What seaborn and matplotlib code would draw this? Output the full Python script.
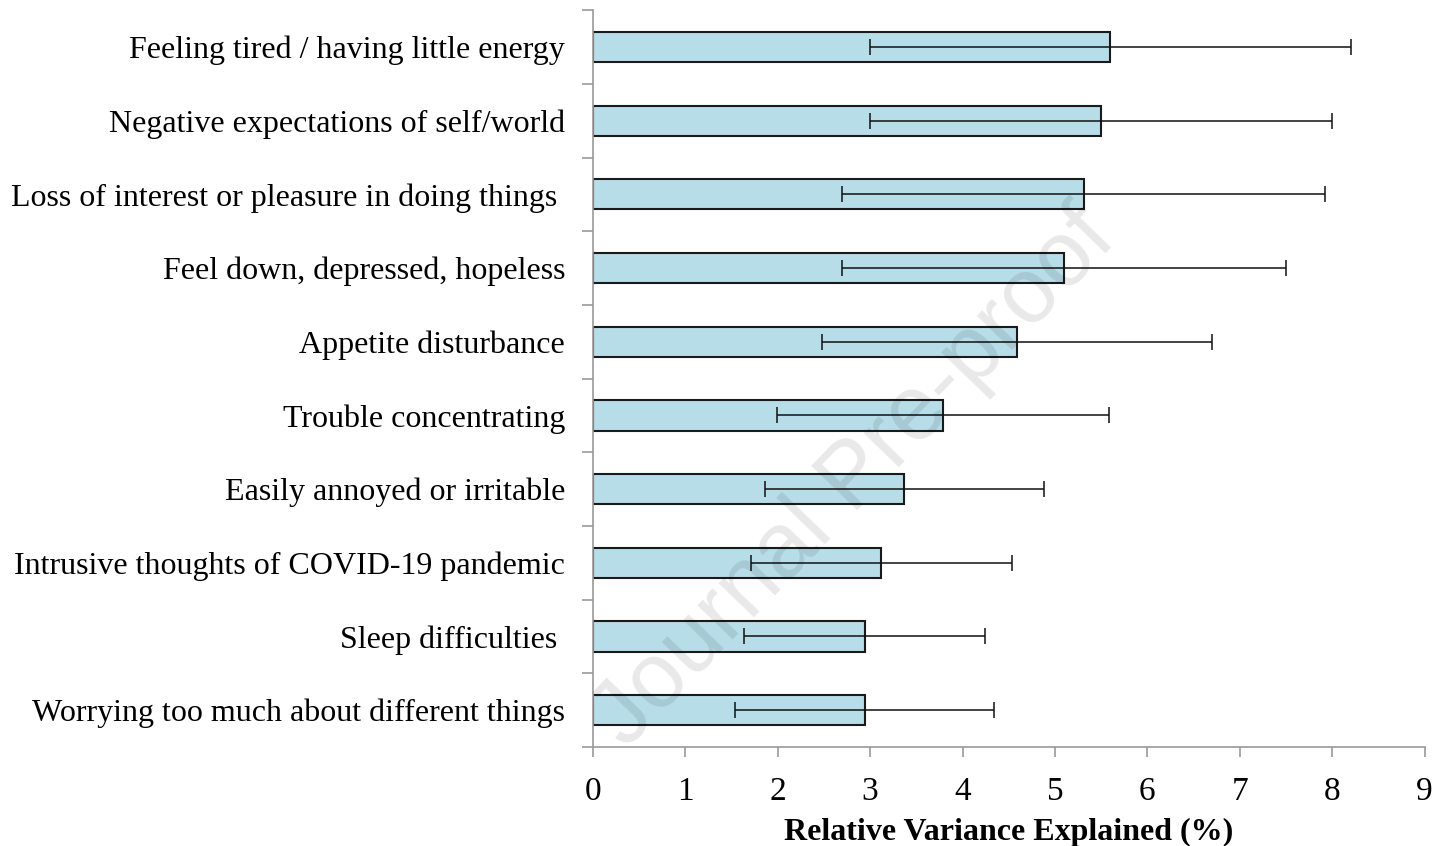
import numpy as np
import pandas as pd
import matplotlib
matplotlib.use("Agg")
import matplotlib.pyplot as plt
import seaborn as sns

symptoms = [
    "Feeling tired / having little energy",
    "Negative expectations of self/world",
    "Loss of interest or pleasure in doing things ",
    "Feel down, depressed, hopeless",
    "Appetite disturbance",
    "Trouble concentrating",
    "Easily annoyed or irritable",
    "Intrusive thoughts of COVID-19 pandemic",
    "Sleep difficulties ",
    "Worrying too much about different things",
]
variance = [5.60, 5.50, 5.31, 5.10, 4.59, 3.79, 3.37, 3.12, 2.94, 2.94]
err = [2.60, 2.50, 2.61, 2.40, 2.11, 1.80, 1.51, 1.41, 1.30, 1.40]
xticks = list(range(0, 10))

df = pd.DataFrame({"symptom": symptoms, "variance": variance, "err": err})

sns.set_style("white")
plt.rcParams["font.family"] = ["Liberation Serif", "DejaVu Serif"]
plt.rcParams["text.color"] = "black"
plt.rcParams["xtick.color"] = "#999999"
plt.rcParams["ytick.color"] = "#999999"
plt.rcParams["xtick.labelcolor"] = "black"
plt.rcParams["ytick.labelcolor"] = "black"

fig = plt.figure(figsize=(14.39, 8.46), dpi=100)
ax = fig.add_axes([0.412, 0.117, 0.578, 0.871])

sns.barplot(data=df, x="variance", y="symptom", orient="h", color="#b7dde8",
            edgecolor="#1a1a1a", linewidth=1.5, width=0.41, errorbar=None,
            saturation=1, ax=ax)
ax.errorbar(df["variance"], np.arange(len(df)), xerr=df["err"], fmt="none",
            ecolor="#111111", elinewidth=1.1, capsize=6, capthick=1.1, zorder=5)

ax.set_xlim(0, 9)
ax.set_ylim(len(df) - 0.5, -0.5)
ax.set_xticks(xticks)
ax.set_xticklabels([str(t) for t in xticks], fontsize=24)
ax.set_yticks(np.arange(len(df)))
ax.set_yticklabels(symptoms, fontsize=23)
ax.set_yticks(np.arange(-0.5, len(df)), minor=True)
ax.tick_params(axis="y", which="major", left=False, pad=16.5)
ax.tick_params(axis="y", which="minor", left=True, length=8, color="#999999", width=1.2, direction="out")
ax.tick_params(axis="x", bottom=True, length=7, color="#999999", width=1.2, direction="out", pad=14)

ax.set_xlabel("Relative Variance Explained (%)", fontsize=23, fontweight="bold",
              color="black", labelpad=8)
ax.set_ylabel("")

sns.despine(ax=ax)
for s in ("left", "bottom"):
    ax.spines[s].set_color("#999999")
    ax.spines[s].set_linewidth(1.2)

# watermark
fig.text(0.594, 0.435, "Journal Pre-proof", fontsize=66, family="Liberation Sans",
         color="#000000", alpha=0.09, rotation=46, ha="center", va="center", zorder=10)

fig.savefig("out.png", dpi=100)
